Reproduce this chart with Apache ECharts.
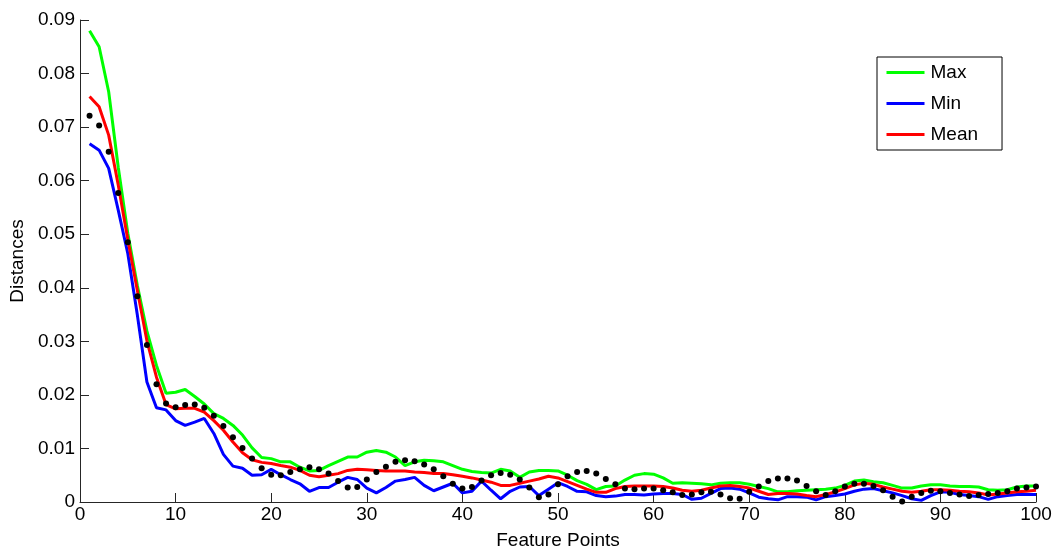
<!DOCTYPE html>
<html>
<head>
<meta charset="utf-8">
<script src="https://cdn.jsdelivr.net/npm/echarts@6/dist/echarts.min.js"></script>
<style>
  html, body { margin: 0; padding: 0; background: #fff; }
  #chart { width: 1057px; height: 549px; }
</style>
</head>
<body>
<div id="chart"></div>
<script>
// Feature point indices 1..100
const featurePoints = Array.from({ length: 100 }, (_, i) => i + 1);

// Axis ticks
const xTicks = { min: 0, max: 100, step: 10 };
const yTicks = { min: 0, max: 0.09, step: 0.01 };

// Maximum distance per feature point
const maxValues = [
  0.0880, 0.0850, 0.0766, 0.0625, 0.0502, 0.0404, 0.0319, 0.0255, 0.0203, 0.0205,
  0.0210, 0.0197, 0.0183, 0.0165, 0.0156, 0.0143, 0.0125, 0.0101, 0.0083, 0.0081,
  0.0075, 0.0075, 0.0065, 0.0058, 0.0059, 0.0068, 0.0076, 0.0084, 0.0084, 0.0093,
  0.0096, 0.0093, 0.0084, 0.0068, 0.0075, 0.0078, 0.0077, 0.0075, 0.0068, 0.0061,
  0.0057, 0.0055, 0.0054, 0.0061, 0.0058, 0.0046, 0.0056, 0.0059, 0.0059, 0.0058,
  0.0050, 0.0040, 0.0033, 0.0023, 0.0029, 0.0030, 0.0041, 0.0050, 0.0053, 0.0052,
  0.0045, 0.0035, 0.0036, 0.0035, 0.0034, 0.0032, 0.0035, 0.0036, 0.0036, 0.0033,
  0.0029, 0.0025, 0.0019, 0.0019, 0.0021, 0.0022, 0.0023, 0.0024, 0.0026, 0.0031,
  0.0039, 0.0041, 0.0038, 0.0036, 0.0031, 0.0026, 0.0026, 0.0030, 0.0032, 0.0032,
  0.0030, 0.0029, 0.0029, 0.0028, 0.0023, 0.0022, 0.0023, 0.0028, 0.0030, 0.0030
];

// Minimum distance per feature point
const minValues = [
  0.0669, 0.0657, 0.0623, 0.0545, 0.0464, 0.0349, 0.0224, 0.0176, 0.0172, 0.0152,
  0.0143, 0.0149, 0.0156, 0.0128, 0.0089, 0.0067, 0.0063, 0.0050, 0.0051, 0.0061,
  0.0051, 0.0042, 0.0034, 0.0020, 0.0027, 0.0027, 0.0037, 0.0046, 0.0042, 0.0026,
  0.0017, 0.0027, 0.0039, 0.0042, 0.0046, 0.0031, 0.0021, 0.0028, 0.0035, 0.0017,
  0.0020, 0.0039, 0.0022, 0.0006, 0.0020, 0.0028, 0.0029, 0.0012, 0.0024, 0.0036,
  0.0029, 0.0020, 0.0019, 0.0012, 0.0010, 0.0011, 0.0014, 0.0014, 0.0013, 0.0015,
  0.0016, 0.0016, 0.0014, 0.0005, 0.0007, 0.0016, 0.0025, 0.0026, 0.0024, 0.0017,
  0.0009, 0.0006, 0.0004, 0.0010, 0.0010, 0.0009, 0.0004, 0.0010, 0.0012, 0.0015,
  0.0020, 0.0024, 0.0025, 0.0021, 0.0017, 0.0012, 0.0006, 0.0003, 0.0012, 0.0019,
  0.0018, 0.0014, 0.0012, 0.0010, 0.0005, 0.0010, 0.0012, 0.0014, 0.0014, 0.0014
];

// Mean distance per feature point
const meanValues = [
  0.0757, 0.0738, 0.0685, 0.0592, 0.0490, 0.0395, 0.0301, 0.0233, 0.0182, 0.0174,
  0.0175, 0.0175, 0.0168, 0.0152, 0.0134, 0.0112, 0.0092, 0.0079, 0.0074, 0.0072,
  0.0068, 0.0065, 0.0059, 0.0050, 0.0047, 0.0050, 0.0053, 0.0059, 0.0061, 0.0060,
  0.0059, 0.0058, 0.0058, 0.0058, 0.0056, 0.0055, 0.0053, 0.0053, 0.0051, 0.0048,
  0.0045, 0.0041, 0.0037, 0.0031, 0.0031, 0.0035, 0.0039, 0.0043, 0.0048, 0.0045,
  0.0038, 0.0031, 0.0024, 0.0018, 0.0018, 0.0025, 0.0029, 0.0030, 0.0030, 0.0030,
  0.0029, 0.0026, 0.0022, 0.0020, 0.0022, 0.0026, 0.0030, 0.0031, 0.0029, 0.0026,
  0.0020, 0.0014, 0.0016, 0.0016, 0.0015, 0.0012, 0.0010, 0.0014, 0.0019, 0.0025,
  0.0032, 0.0035, 0.0033, 0.0028, 0.0024, 0.0020, 0.0018, 0.0020, 0.0023, 0.0023,
  0.0022, 0.0020, 0.0019, 0.0017, 0.0013, 0.0015, 0.0017, 0.0019, 0.0020, 0.0022
];

// Individual sample distances (dotted series)
const sampleValues = [
  0.0721, 0.0703, 0.0654, 0.0577, 0.0485, 0.0384, 0.0293, 0.0220, 0.0184, 0.0177,
  0.0181, 0.0182, 0.0176, 0.0161, 0.0142, 0.0121, 0.0101, 0.0081, 0.0063, 0.0051,
  0.0050, 0.0056, 0.0061, 0.0065, 0.0061, 0.0053, 0.0039, 0.0027, 0.0028, 0.0042,
  0.0056, 0.0066, 0.0075, 0.0078, 0.0076, 0.0070, 0.0061, 0.0048, 0.0034, 0.0025,
  0.0028, 0.0040, 0.0050, 0.0054, 0.0051, 0.0042, 0.0027, 0.0009, 0.0014, 0.0033,
  0.0048, 0.0056, 0.0058, 0.0053, 0.0043, 0.0033, 0.0025, 0.0024, 0.0025, 0.0025,
  0.0022, 0.0018, 0.0013, 0.0014, 0.0018, 0.0019, 0.0014, 0.0007, 0.0006, 0.0019,
  0.0029, 0.0039, 0.0044, 0.0044, 0.0040, 0.0030, 0.0020, 0.0013, 0.0020, 0.0029,
  0.0034, 0.0034, 0.0030, 0.0022, 0.0010, 0.0001, 0.0010, 0.0017, 0.0021, 0.0020,
  0.0017, 0.0014, 0.0011, 0.0013, 0.0015, 0.0017, 0.0020, 0.0025, 0.0027, 0.0029
];

const pairs = (vals) => featurePoints.map((x, i) => [x, vals[i]]);

const FONT = '"Liberation Sans", Arial, sans-serif';
const AXIS_COLOR = '#262626';

const chart = echarts.init(document.getElementById('chart'), null, { renderer: 'canvas' });

const lineSeries = (name, color, vals) => ({
  name,
  type: 'line',
  data: pairs(vals),
  symbol: 'none',
  smooth: false,
  animation: false,
  lineStyle: { color, width: 3 },
  itemStyle: { color }
});

chart.setOption({
  animation: false,
  backgroundColor: '#ffffff',
  grid: { left: 80, right: 21, top: 20, bottom: 47, containLabel: false, outerBoundsMode: 'none' },
  legend: {
    data: ['Max', 'Min', 'Mean'],
    orient: 'vertical',
    left: 877,
    top: 57,
    padding: [6, 24, 6, 8],
    itemGap: 12,
    itemWidth: 38,
    itemHeight: 20,
    borderColor: '#000',
    borderWidth: 1,
    selectedMode: false,
    itemStyle: { opacity: 0 },
    lineStyle: { width: 3, opacity: 1 },
    textStyle: { fontFamily: FONT, fontSize: 19, color: '#000', padding: [0, 0, 0, 1] }
  },
  xAxis: {
    type: 'value',
    min: xTicks.min,
    max: xTicks.max,
    interval: xTicks.step,
    name: 'Feature Points',
    nameLocation: 'middle',
    nameGap: 29,
    nameTextStyle: { fontFamily: FONT, fontSize: 19, color: '#000' },
    axisLine: { show: true, onZero: false, lineStyle: { color: AXIS_COLOR, width: 1 } },
    axisTick: { show: true, inside: true, length: 9, lineStyle: { color: AXIS_COLOR } },
    axisLabel: { fontFamily: FONT, fontSize: 19, color: '#000', margin: 3 },
    splitLine: { show: false }
  },
  yAxis: {
    type: 'value',
    min: yTicks.min,
    max: yTicks.max,
    interval: yTicks.step,
    name: 'Distances',
    nameLocation: 'middle',
    nameGap: 50,
    nameTextStyle: { fontFamily: FONT, fontSize: 19, color: '#000' },
    axisLine: { show: true, onZero: false, lineStyle: { color: AXIS_COLOR, width: 1 } },
    axisTick: { show: true, inside: true, length: 9, lineStyle: { color: AXIS_COLOR } },
    axisLabel: { fontFamily: FONT, fontSize: 19, color: '#000', margin: 5 },
    splitLine: { show: false }
  },
  series: [
    lineSeries('Max', '#00ff00', maxValues),
    lineSeries('Min', '#0000ff', minValues),
    lineSeries('Mean', '#ff0000', meanValues),
    {
      name: 'Samples',
      type: 'scatter',
      data: pairs(sampleValues),
      symbol: 'circle',
      symbolSize: 6,
      itemStyle: { color: '#000', opacity: 1 },
      z: 5
    }
  ]
});
</script>
</body>
</html>
